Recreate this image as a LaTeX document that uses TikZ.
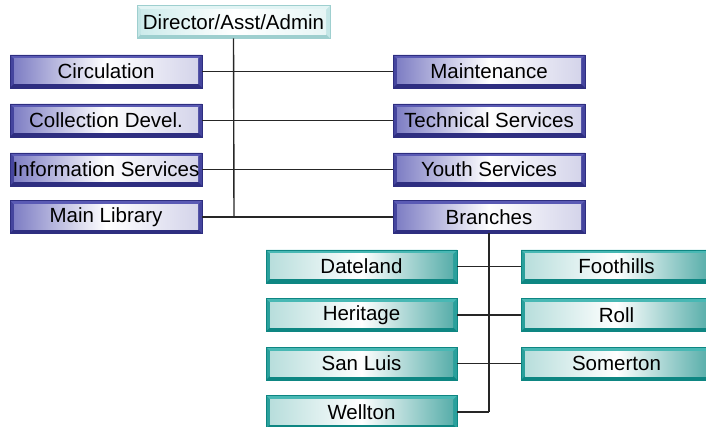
\documentclass[tikz,border=0pt]{standalone}
\usepackage{fontspec}
\setmainfont{Liberation Sans}
\usetikzlibrary{calc}
\definecolor{bvTop}{HTML}{5A5AB4}
\definecolor{bvSide}{HTML}{45459E}
\definecolor{bvBot}{HTML}{2E2E80}
\definecolor{bvIn}{HTML}{7E7EC4}
\definecolor{bvInR}{HTML}{D4D4EA}
\definecolor{tlTop}{HTML}{48B8B4}
\definecolor{tlSide}{HTML}{2AA09C}
\definecolor{tlBot}{HTML}{0E8682}
\definecolor{tlIn}{HTML}{B8DEDC}
\definecolor{tlInR}{HTML}{58AEAA}
\definecolor{cyTop}{HTML}{E2F4F4}
\definecolor{cySide}{HTML}{C4E6E6}
\definecolor{cyBot}{HTML}{9ECFCF}
\definecolor{cyIn}{HTML}{CDEBEB}
\definecolor{cyInR}{HTML}{E6F5F5}
\newcommand\bevelbox[5]{%
  \fill[#2] (path picture bounding box.south west) rectangle (path picture bounding box.north east);
  \fill[#1] (path picture bounding box.north west) -- (path picture bounding box.north east)
    -- ($(path picture bounding box.north east)+(-4,4)$) -- ($(path picture bounding box.north west)+(4,4)$) -- cycle;
  \fill[#3] (path picture bounding box.south west) -- (path picture bounding box.south east)
    -- ($(path picture bounding box.south east)+(-4,-4)$) -- ($(path picture bounding box.south west)+(4,-4)$) -- cycle;
  \shade[left color=#4, right color=#5, middle color=white]
    ($(path picture bounding box.south west)+(4,-4)$) rectangle ($(path picture bounding box.north east)+(-4,4)$);
}
\tikzset{
  boxbase/.style={minimum height=33pt, inner sep=0pt, outer sep=0pt,
    font=\fontsize{20.5}{23}\selectfont},
  bluebox/.style={boxbase, minimum width=192pt, draw=bvBot, line width=0.4pt,
    path picture={\bevelbox{bvTop}{bvSide}{bvBot}{bvIn}{bvInR}}},
  tealbox/.style={boxbase, minimum width=191pt, draw=tlBot, line width=0.4pt,
    path picture={\bevelbox{tlTop}{tlSide}{tlBot}{tlIn}{tlInR}}},
  topbox/.style={boxbase, minimum width=193pt, draw=cyBot, line width=0.4pt,
    path picture={\bevelbox{cyTop}{cySide}{cyBot}{cyIn}{cyInR}}},
  link/.style={draw=black!85, line width=1.4pt}
}
\begin{document}
\begin{tikzpicture}[x=1pt,y=-1pt]
\useasboundingbox (0,0) rectangle (706,427);
\coordinate (vbot) at (234,217);
\coordinate (bv2) at (489,412);
% boxes
\node[topbox] (dir) at (233.5,22) {Director/Asst/Admin};
\node[bluebox] (circ) at (106,71.5) {Circulation};
\node[bluebox] (coll) at (106,120.5) {Collection Devel.};
\node[bluebox] (info) at (106,169.5) {Information Services};
\node[bluebox] (main) at (106,217) {Main Library};
\node[bluebox] (maint) at (489,71.5) {Maintenance};
\node[bluebox] (tech) at (489,120.5) {Technical Services};
\node[bluebox] (youth) at (489,169.5) {Youth Services};
\node[bluebox] (bran) at (489,217) {Branches};
\node[tealbox] (date) at (361.5,266.5) {Dateland};
\node[tealbox] (heri) at (361.5,315) {Heritage};
\node[tealbox] (sanl) at (361.5,363.5) {San Luis};
\node[tealbox] (well) at (361.5,412) {Wellton};
\node[tealbox] (foot) at (616.5,266.5) {Foothills};
\node[tealbox] (roll) at (616.5,315) {Roll};
\node[tealbox] (some) at (616.5,363.5) {Somerton};
% connectors
\draw[link] (dir.south) -- (vbot);
\draw[link] (circ.east) -- (maint.west);
\draw[link] (coll.east) -- (tech.west);
\draw[link] (info.east) -- (youth.west);
\draw[link] (main.east) -- (bran.west);
\draw[link] (bran.south) -- (bv2);
\draw[link] (date.east) -- (foot.west);
\draw[link] (heri.east) -- (roll.west);
\draw[link] (sanl.east) -- (some.west);
\draw[link] (well.east) -- (bv2);
\end{tikzpicture}
\end{document}
